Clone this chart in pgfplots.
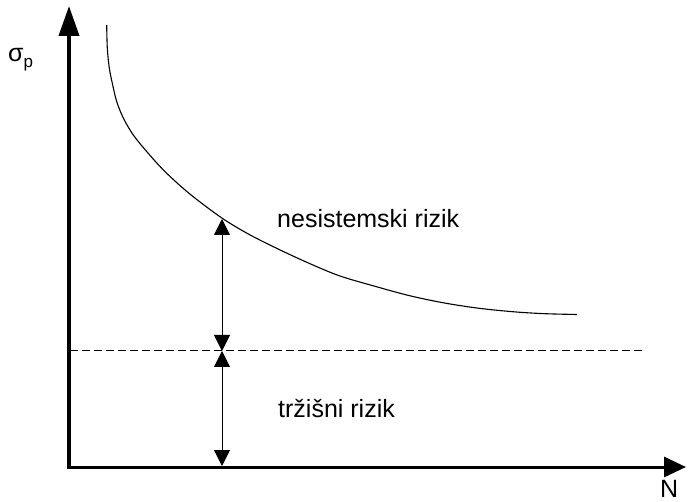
\documentclass[border=0pt]{standalone}
\usepackage{pgfplots}
\pgfplotsset{compat=1.18}
\usepackage{fontspec}
\setmainfont{Liberation Sans}
\usetikzlibrary{arrows.meta}
\begin{document}
\begin{tikzpicture}
\useasboundingbox (0,0) rectangle (688pt,501pt);
\begin{axis}[
  x=1pt, y=1pt,
  xmin=0, xmax=688, ymin=0, ymax=501,
  hide axis, clip=false,
  anchor=origin, at={(0,0)},
]
% axes
\addplot[line width=4pt, -{Triangle[length=30pt,width=20pt]}, shorten >=-1pt] coordinates {(69,33) (69,494)};
\addplot[line width=3pt, -{Triangle[length=22pt,width=20pt]}] coordinates {(67,34) (686,34)};
% curve
\addplot[line width=1.1pt, smooth, tension=0.55] coordinates {
(106.7,476) (107.3,453) (109.3,433) (112.7,416) (116.7,399.5) (123.3,383)
(133.3,366) (146.7,349.5) (165,329.4) (190,306.9) (222,282.9) (250,266.1)
(280,251.1) (310,237.3) (340,225) (375,214.7) (410,205.2) (445,197.9)
(480,192.6) (515,189.1) (545,187.3) (577,186.5)};
% dashed market risk line
\addplot[line width=1pt, dash pattern=on 8pt off 4pt] coordinates {(70,150) (645,150)};
% double arrows
\addplot[line width=1pt, black, {Triangle[length=16pt,width=16pt]}-{Triangle[length=16pt,width=16pt]}] coordinates {(222,282) (222,150)};
\addplot[line width=1pt, black, {Triangle[length=16pt,width=16pt]}-{Triangle[length=16pt,width=16pt]}] coordinates {(222,150) (222,35)};
% labels
\node[anchor=base west, inner sep=0pt, font=\fontsize{25}{30}\selectfont] at (axis cs:277,273) {nesistemski rizik};
\node[anchor=base west, inner sep=0pt, font=\fontsize{25}{30}\selectfont] at (axis cs:278,84) {tržišni rizik};
\node[anchor=base west, inner sep=0pt, font=\fontsize{25}{30}\selectfont] at (axis cs:8,439) {σ\raisebox{-6pt}{\fontsize{17}{20}\selectfont p}};
\node[anchor=base west, inner sep=0pt, font=\fontsize{25}{30}\selectfont] at (axis cs:660,4) {N};
\end{axis}
\end{tikzpicture}
\end{document}
